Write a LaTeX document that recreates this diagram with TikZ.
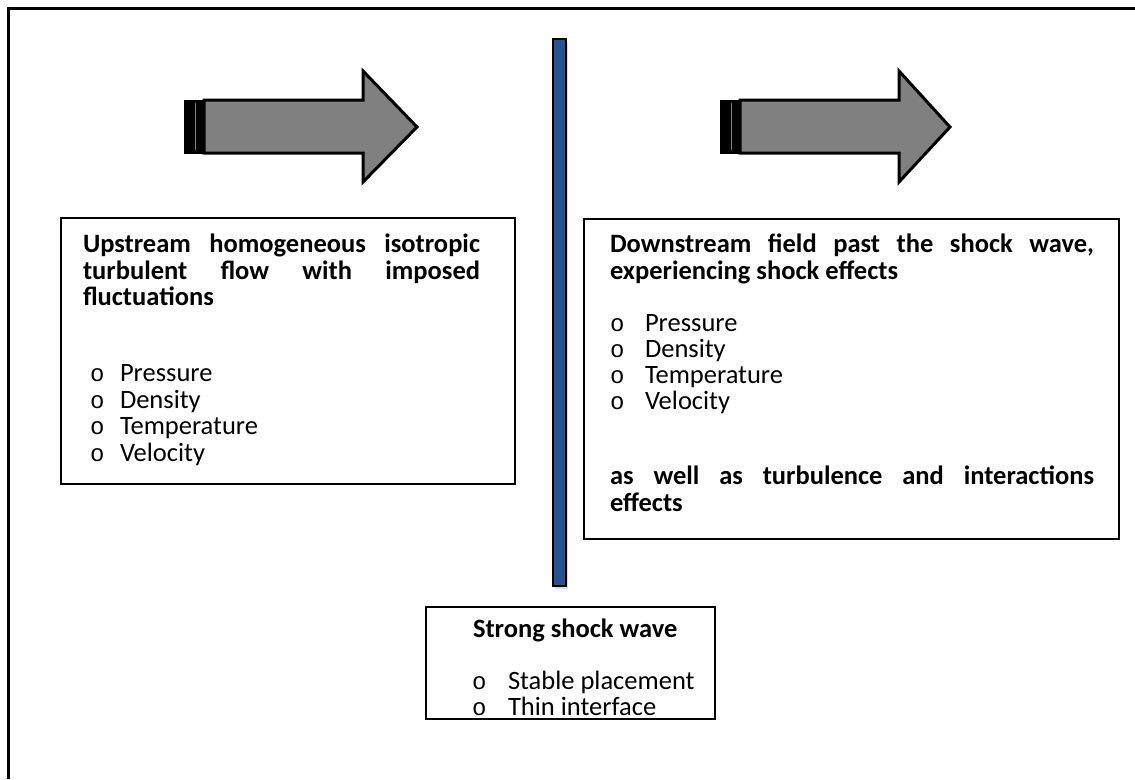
\documentclass[tikz,border=0pt]{standalone}
\usepackage{fontspec}
\setmainfont{Carlito}
\newfontfamily\bulletfont{Liberation Mono}
\usetikzlibrary{shadows}
\definecolor{shockblue}{RGB}{40,82,146}
\definecolor{arrowgray}{RGB}{128,128,128}
% bullet item: hollow "o" marker followed by the item text
\newcommand{\itm}[2][30pt]{\makebox[#1][l]{\bulletfont\fontsize{24}{27}\selectfont o}#2}
\begin{document}
\begin{tikzpicture}[x=1pt,y=-1pt,
  frame/.style={line width=3pt},
  panel/.style={draw=black, line width=2.2pt, fill=white, anchor=north west, inner sep=0pt},
  ln/.style={anchor=base west, inner sep=0pt, outer sep=0pt, font=\fontsize{26.5}{27}\selectfont},
  hd/.style={ln, font=\fontsize{26.5}{27}\selectfont\bfseries},
  flow/.style={fill=arrowgray, draw=black, line width=3pt, line join=miter},
  bar/.style={fill=black, draw=black, line width=1pt},
]
\useasboundingbox (0,0) rectangle (1135,779);

% outer frame
\draw[frame] (8,779) -- (8,8) -- (1135,8);

% flow arrows
\draw[flow] (204,100) -- (363,100) -- (363,71) -- (417,127) -- (363,182) -- (363,153) -- (204,153) -- cycle;
\draw[bar] (184,100) rectangle (204,153);
\draw[arrowgray, line width=1pt] (195,103) -- (195,150);

\draw[flow] (740,100) -- (899,100) -- (899,71) -- (950,127) -- (899,182) -- (899,153) -- (740,153) -- cycle;
\draw[bar] (720,100) rectangle (740,153);
\draw[arrowgray, line width=1pt] (731,103) -- (731,150);

% shock wave
\node[draw=black, line width=1.5pt, fill=shockblue, anchor=north west, inner sep=0pt,
      minimum width=13pt, minimum height=547pt,
      drop shadow={shadow xshift=2pt, shadow yshift=-3pt, opacity=0.25}] (shock) at (552,38) {};

% upstream panel
\node[panel, minimum width=454pt, minimum height=266pt] (upbox) at (60,217) {};
\node[hd] (up1) at (83,252) {\hbox to 397pt{Upstream\hfill homogeneous\hfill isotropic}};
\node[hd] (up2) at (83,279) {\hbox to 397pt{turbulent\hfill flow\hfill with\hfill imposed}};
\node[hd] (up3) at (83,305) {fluctuations};
\node[ln] (upa) at (90,381) {\itm[30pt]{Pressure}};
\node[ln] (upb) at (90,408) {\itm[30pt]{Density}};
\node[ln] (upc) at (90,434) {\itm[30pt]{Temperature}};
\node[ln] (upd) at (90,461) {\itm[30pt]{Velocity}};

% downstream panel
\node[panel, minimum width=535pt, minimum height=320pt] (downbox) at (583,218) {};
\node[hd] (dn1) at (610,252) {\hbox to 484pt{Downstream\hfill field\hfill past\hfill the\hfill shock\hfill wave,}};
\node[hd] (dn2) at (610,279) {experiencing shock effects};
\node[ln] (dna) at (610,331) {\itm[35pt]{Pressure}};
\node[ln] (dnb) at (610,357) {\itm[35pt]{Density}};
\node[ln] (dnc) at (610,383) {\itm[35pt]{Temperature}};
\node[ln] (dnd) at (610,409) {\itm[35pt]{Velocity}};
\node[hd] (dn3) at (610,484) {\hbox to 484pt{as\hfill well\hfill as\hfill turbulence\hfill and\hfill interactions}};
\node[hd] (dn4) at (610,511) {effects};

% shock panel
\node[panel, minimum width=289pt, minimum height=112pt] (shockbox) at (425,606) {};
\node[hd] (sh1) at (473,637) {Strong shock wave};
\node[ln] (sha) at (472,689) {\itm[36pt]{Stable placement}};
\node[ln] (shb) at (472,715) {\itm[36pt]{Thin interface}};
\end{tikzpicture}
\end{document}
